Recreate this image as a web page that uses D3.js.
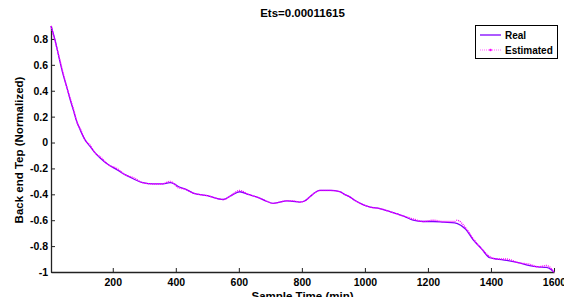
<!DOCTYPE html>
<html>
<head>
<meta charset="utf-8">
<script src="https://cdn.jsdelivr.net/npm/d3@7"></script>
<style>
body { margin: 0; background: #fff; }
text { font-family: "Liberation Sans", Arial, sans-serif; font-weight: bold; }
</style>
</head>
<body>
<div id="chart-area"></div>
<script>
// sample times (min)
var time = [4, 17, 30, 43, 55, 65, 75, 86, 98, 112, 128, 144, 160, 185, 213, 240, 265, 295, 329, 355,
    382, 395, 408, 430, 455, 500, 551, 575, 603, 630, 656, 685, 709, 730, 751, 772, 793, 810, 825, 840,
    857, 890, 920, 935, 952, 970, 994, 1020, 1047, 1075, 1100, 1125, 1153, 1185, 1216, 1250, 1285, 1292, 1320, 1343,
    1370, 1396, 1420, 1449, 1490, 1523, 1550, 1576, 1590, 1600];

var real = [0.9, 0.79, 0.65, 0.52, 0.42, 0.33, 0.25, 0.16, 0.09, 0.02, -0.03, -0.08, -0.12, -0.17, -0.21, -0.25, -0.28, -0.31, -0.32, -0.32,
    -0.31, -0.32, -0.34, -0.36, -0.39, -0.41, -0.44, -0.41, -0.38, -0.40, -0.42, -0.45, -0.47, -0.46, -0.45, -0.455, -0.46, -0.45, -0.42, -0.39,
    -0.37, -0.37, -0.38, -0.40, -0.42, -0.45, -0.48, -0.50, -0.51, -0.53, -0.55, -0.57, -0.60, -0.61, -0.61, -0.615, -0.62, -0.625, -0.67, -0.75,
    -0.82, -0.89, -0.90, -0.91, -0.93, -0.95, -0.96, -0.965, -0.98, -1.0];

var estimated = [0.9, 0.78, 0.66, 0.53, 0.42, 0.34, 0.26, 0.16, 0.10, 0.02, -0.02, -0.08, -0.11, -0.17, -0.20, -0.25, -0.27, -0.31, -0.32, -0.32,
    -0.30, -0.32, -0.35, -0.36, -0.39, -0.41, -0.44, -0.41, -0.37, -0.40, -0.42, -0.45, -0.47, -0.46, -0.45, -0.45, -0.46, -0.45, -0.42, -0.39,
    -0.37, -0.37, -0.38, -0.40, -0.42, -0.45, -0.48, -0.50, -0.51, -0.53, -0.55, -0.57, -0.59, -0.61, -0.60, -0.61, -0.61, -0.60, -0.66, -0.74,
    -0.82, -0.88, -0.90, -0.90, -0.93, -0.94, -0.96, -0.95, -0.97, -1.0];

var xTicks = [200, 400, 600, 800, 1000, 1200, 1400, 1600];
var yTicks = [-1, -0.8, -0.6, -0.4, -0.2, 0, 0.2, 0.4, 0.6, 0.8];
var seriesNames = ["Real", "Estimated"];

var width = 564, height = 297;
var margin = {top: 26, right: 10, bottom: 25, left: 51};

var svg = d3.select("#chart-area")
    .append("svg")
    .attr("width", width)
    .attr("height", height);

var x = d3.scaleLinear().domain([4, 1600]).range([margin.left, width - margin.right]);
var y = d3.scaleLinear().domain([-1, 0.9]).range([height - margin.bottom, margin.top]);

// title
svg.append("text")
    .attr("x", (margin.left + width - margin.right) / 2)
    .attr("y", 17)
    .attr("text-anchor", "middle")
    .attr("font-size", "11.5px")
    .text("Ets=0.00011615");

// axes (MATLAB-like inward ticks)
var xAxis = svg.append("g")
    .attr("transform", "translate(0," + (height - margin.bottom) + ")")
    .call(d3.axisBottom(x).tickValues(xTicks).tickSizeInner(-4).tickSizeOuter(0).tickPadding(7)
        .tickFormat(d3.format("d")));
var yAxis = svg.append("g")
    .attr("transform", "translate(" + margin.left + ",0)")
    .call(d3.axisLeft(y).tickValues(yTicks).tickSizeInner(-4).tickSizeOuter(0).tickPadding(3)
        .tickFormat(function(d) { return String(+d.toFixed(1)); }));

[xAxis, yAxis].forEach(function(g) {
    g.select(".domain").attr("stroke", "#222").attr("stroke-width", 1.3);
    g.selectAll(".tick line").attr("stroke", "#222");
    g.selectAll(".tick text").attr("font-size", "10.5px").attr("fill", "#000")
        .style("font-family", "'Liberation Sans', Arial, sans-serif").style("font-weight", "bold");
});
xAxis.selectAll(".tick text").attr("dy", "0.71em");

// axis labels
svg.append("text")
    .attr("x", (margin.left + width - margin.right) / 2)
    .attr("y", 300)
    .attr("text-anchor", "middle")
    .attr("font-size", "11.5px")
    .text("Sample Time (min)");

svg.append("text")
    .attr("transform", "rotate(-90)")
    .attr("x", -150)
    .attr("y", 23)
    .attr("text-anchor", "middle")
    .attr("font-size", "11.5px")
    .text("Back end Tep (Normalized)");

var line = d3.line()
    .curve(d3.curveMonotoneX)
    .x(function(d) { return x(d[0]); })
    .y(function(d) { return y(d[1]); });

var realPts = time.map(function(t, i) { return [t, real[i]]; });
var estPts = time.map(function(t, i) { return [t, estimated[i]]; });

svg.append("path")
    .datum(realPts)
    .attr("fill", "none")
    .attr("stroke", "#8000ff")
    .attr("stroke-width", 1.3)
    .attr("d", line);

svg.append("path")
    .datum(estPts)
    .attr("fill", "none")
    .attr("stroke", "#ff00ff")
    .attr("stroke-width", 1.4)
    .attr("stroke-dasharray", "1,1")
    .attr("d", line);

// legend
var lg = svg.append("g");
lg.append("rect")
    .attr("x", 475.5).attr("y", 25.5)
    .attr("width", 82).attr("height", 33)
    .attr("fill", "#fff").attr("stroke", "#000").attr("stroke-width", 1);

lg.append("line").attr("x1", 480).attr("x2", 501).attr("y1", 35).attr("y2", 35)
    .attr("stroke", "#8000ff").attr("stroke-width", 1.3);
lg.append("line").attr("x1", 480).attr("x2", 501).attr("y1", 50).attr("y2", 50)
    .attr("stroke", "#ff66ff").attr("stroke-width", 1.2).attr("stroke-dasharray", "1,1");
lg.append("circle").attr("cx", 490.5).attr("cy", 50).attr("r", 1.3).attr("fill", "#ff00ff");

lg.selectAll("text.leg")
    .data(seriesNames)
    .enter()
    .append("text")
    .attr("class", "leg")
    .attr("x", 505)
    .attr("y", function(d, i) { return 38.5 + i * 15; })
    .attr("font-size", "10px")
    .text(function(d) { return d; });
</script>
</body>
</html>
